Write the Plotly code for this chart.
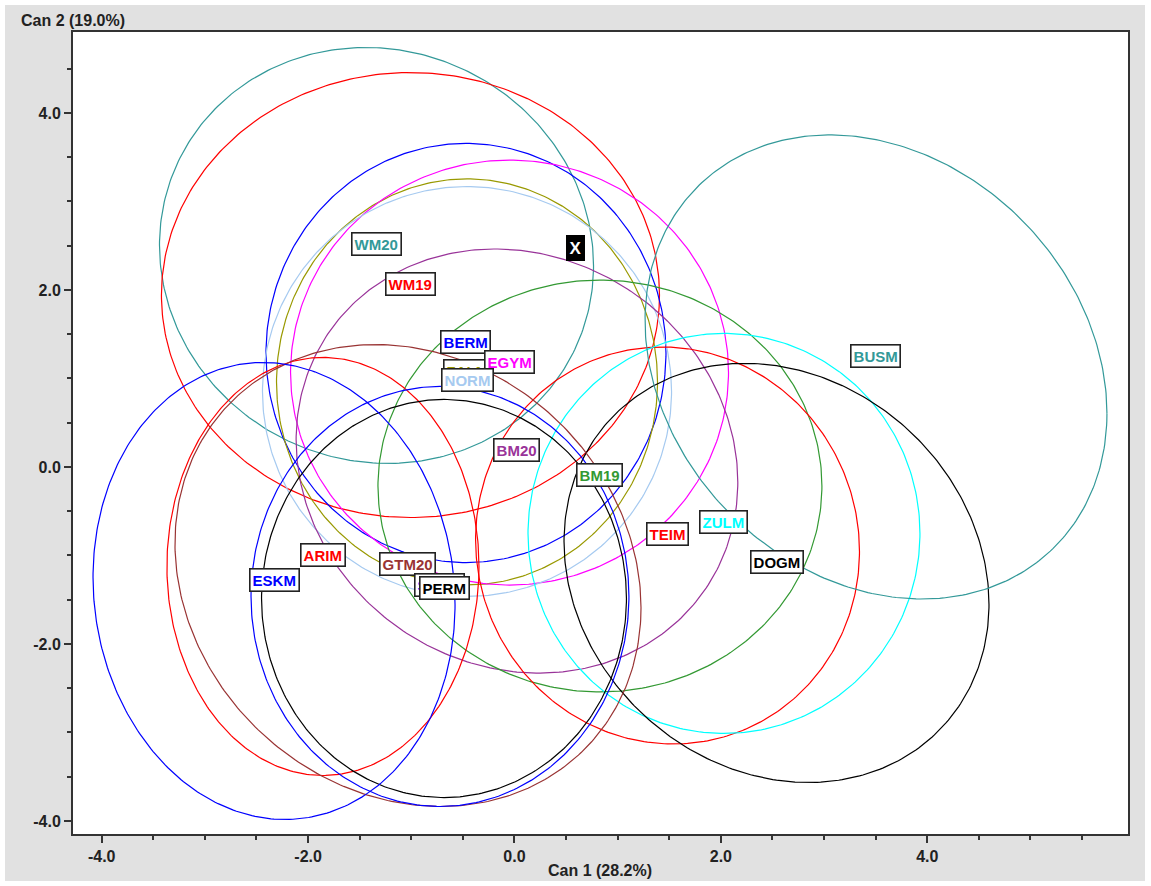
import numpy as np
import plotly.graph_objects as go

# Group centroids on the first two canonical axes, with ellipse half-widths
# along each axis and a tilt (correlation) term for each ellipse.
groups = ["WM20", "WM19", "BERM", "ZALM", "EGYM", "NORM", "BM20", "BM19",
          "TEIM", "ZULM", "DOGM", "BUSM", "ARIM", "GTM20", "SANM", "PERM", "ESKM"]
can1_mean = [-1.337, -1.008, -0.470, -0.460, -0.048, -0.460, 0.024, 0.828,
             1.483, 2.030, 2.539, 3.503, -1.856, -1.032, -0.722, -0.683, -2.330]
can2_mean = [2.390, 1.943, 1.288, 0.961, 1.067, 0.853, 0.067, -0.215,
             -0.887, -0.751, -1.197, 1.130, -1.124, -1.226, -1.463, -1.486, -1.401]
can1_radius = [2.103, 2.413, 1.938, 1.846, 2.122, 1.982, 2.140, 2.151,
               1.860, 1.899, 2.059, 2.238, 1.512, 2.258, 1.831, 1.768, 1.754]
can2_radius = [2.350, 2.514, 2.368, 2.294, 2.401, 2.316, 2.396, 2.327,
               2.243, 2.260, 2.368, 2.622, 2.362, 2.610, 2.373, 2.249, 2.582]
tilt = [-0.05, 0.0, 0.0, 0.0, 0.0, 0.0, -0.10, 0.0,
        -0.03, 0.0, -0.15, -0.20, 0.0, -0.14, 0.0, 0.0, -0.06]
colors = ["#339999", "#FF0000", "#0000FF", "#999900", "#FF00FF", "#A6CAF0",
          "#993399", "#339933", "#FF0000", "#00FFFF", "#000000", "#339999",
          "#FF0000", "#993333", "#0000FF", "#000000", "#0000FF"]

# Unknown specimen plotted on the same canonical axes
unknown_label = "X"
unknown_can1 = 0.591
unknown_can2 = 2.469

x_title = "Can 1 (28.2%)"
y_title = "Can 2 (19.0%)"
x_range = [-4.278, 5.945]
y_range = [-4.147, 4.915]
x_tickvals = [-4, -2, 0, 2, 4]
x_ticktext = ["-4.0", "-2.0", "0.0", "2.0", "4.0"]
y_tickvals = [-4, -2, 0, 2, 4]
y_ticktext = ["-4.0", "-2.0", "0.0", "2.0", "4.0"]

fig = go.Figure()

t = np.linspace(0, 2 * np.pi, 361)
for name, cx, cy, rx, ry, r, col in zip(groups, can1_mean, can2_mean,
                                         can1_radius, can2_radius, tilt, colors):
    ex = cx + rx * np.cos(t)
    ey = cy + ry * (r * np.cos(t) + np.sqrt(1 - r * r) * np.sin(t))
    fig.add_trace(go.Scatter(x=ex, y=ey, mode="lines", name=name,
                             line=dict(color=col, width=1.2),
                             hoverinfo="skip", showlegend=False))

# Group labels sit just above each centroid; the draw order controls which
# box ends up on top where labels overlap.
label_order = ["WM20", "WM19", "BERM", "ZALM", "EGYM", "NORM", "BM20", "BM19",
               "TEIM", "ZULM", "DOGM", "BUSM", "ARIM", "ESKM", "GTM20", "SANM", "PERM"]
for name in label_order:
    i = groups.index(name)
    fig.add_annotation(x=can1_mean[i], y=can2_mean[i], text=name,
                       showarrow=False, yshift=11,
                       font=dict(family="Arial", size=15, color=colors[i], weight="bold"),
                       bgcolor="white", bordercolor="#222222", borderwidth=1.6,
                       borderpad=2)

fig.add_annotation(x=unknown_can1, y=unknown_can2, text=unknown_label,
                   showarrow=False,
                   font=dict(family="Arial", size=17, color="white", weight="bold"),
                   bgcolor="black", bordercolor="black", borderwidth=1.6, borderpad=2)

# Plot frame geometry in pixels
L, R, T, B = 73, 1128, 32, 834
W, H = 1151, 886
pw, ph = R - L, B - T

def px_x(p):
    return (p - L) / pw

def px_y(p):
    return (B - p) / ph

# Grey panel behind the chart, then the white plotting area on top of it
fig.add_shape(type="rect", xref="paper", yref="paper", layer="below",
              x0=px_x(5), x1=px_x(1145), y0=px_y(881), y1=px_y(5),
              fillcolor="#E1E1E1", line=dict(width=0))
fig.add_shape(type="rect", xref="paper", yref="paper", layer="below",
              x0=0, x1=1, y0=0, y1=1, fillcolor="white", line=dict(width=0))

axis_font = dict(family="Arial", size=16, color="#222222", weight="bold")
common = dict(showgrid=False, zeroline=False, showline=True, mirror=True,
              linecolor="#333333", linewidth=2, ticks="outside", ticklen=7,
              tickwidth=1.5, tickcolor="#333333", tickfont=axis_font,
              minor=dict(dtick=0.5, tick0=0, ticks="outside", ticklen=4,
                         tickwidth=1.5, tickcolor="#333333", showgrid=False))
fig.update_xaxes(range=x_range, tickmode="array", tickvals=x_tickvals,
                 ticktext=x_ticktext, **common)
fig.update_yaxes(range=y_range, tickmode="array", tickvals=y_tickvals,
                 ticktext=y_ticktext, **common)

title_font = dict(family="Arial", size=16, color="#222222", weight="bold")
fig.add_annotation(xref="paper", yref="paper", x=px_x(600), y=px_y(870),
                   text=x_title, showarrow=False, font=title_font,
                   xanchor="center", yanchor="middle")
fig.add_annotation(xref="paper", yref="paper", x=px_x(19), y=px_y(20),
                   text=y_title, showarrow=False, font=title_font,
                   xanchor="left", yanchor="middle")

fig.update_layout(width=W, height=H,
                  margin=dict(l=L, r=W - R, t=T, b=H - B, pad=0),
                  paper_bgcolor="white", plot_bgcolor="rgba(0,0,0,0)",
                  showlegend=False)

fig.write_html("out.html")
